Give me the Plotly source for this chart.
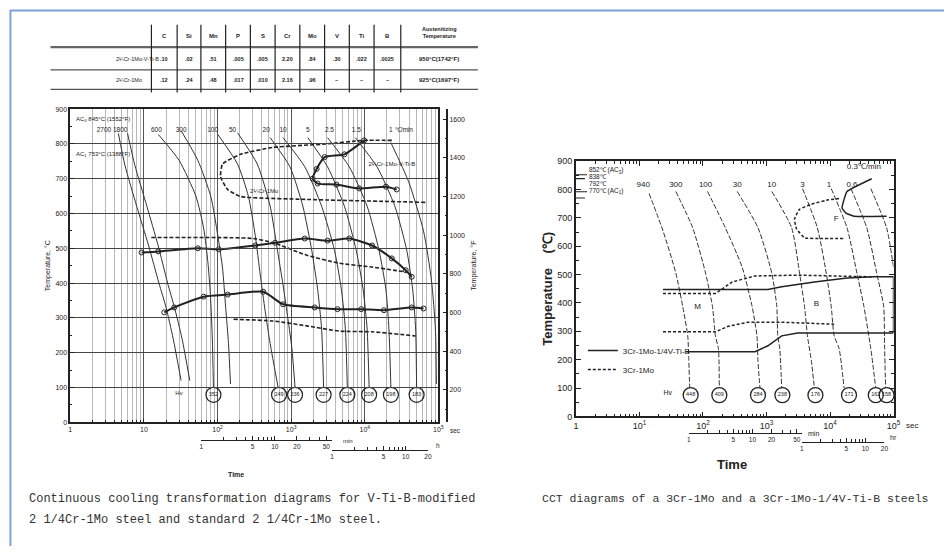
import math
import plotly.graph_objects as go

W, H = 951, 551
def fx(p): return p / W
def fy(p): return 1 - p / H

FONT = "Liberation Sans"
MONO = "Liberation Mono"
INK = "#222222"

# ---------------- composition table ----------------
table_cols = ["C", "Si", "Mn", "P", "S", "Cr", "Mo", "V", "Ti", "B"]
table_rows = ["2¼Cr-1Mo-V-Ti-B", "2¼Cr-1Mo"]
row1_vals = [".10", ".02", ".51", ".005", ".005", "2.20", ".84", ".30", ".022", ".0025"]
row2_vals = [".12", ".24", ".48", ".017", ".010", "2.16", ".96", "–", "–", "–"]
aust_header = "Austenitizing<br>Temperature"
aust_temps = ["950°C(1742°F)", "925°C(1697°F)"]

# ---------------- left chart: 2 1/4Cr-1Mo (time s, temperature °C) ----------------
left_rate_labels = ["2700 1800", "600", "300", "100", "50", "20", "10", "5", "2.5", "1.5", "1"]
left_rate_t = [3.7, 14.8, 32, 86, 160, 458, 776, 1682, 3310, 7660, 22650]
left_rate_T = [838] * 11
left_unit_label = ["℃/min"]
left_unit_t = [33900]
left_unit_T = [838]

left_cool_t = [
    [4.5, 5.5, 8, 11.5, 16, 20, 25, 32],
    [6, 7.5, 11, 15.5, 21, 26, 33, 42],
    [15.7, 30, 51, 65, 74, 80, 85, 88],
    [32, 54, 81, 101, 117, 129, 141, 150],
    [101, 187, 263, 326, 381, 444, 519, 665],
    [187, 347, 519, 645, 776, 906, 1024, 1130],
    [519, 964, 1442, 1905, 2293, 2594, 2760],
    [776, 1534, 2594, 3881, 4820, 5456, 5800],
    [1682, 3126, 5290, 7660, 9510, 10770, 11460],
    [3126, 6170, 10770, 15630, 19400, 21300, 22650],
    [7430, 14680, 25640, 37200, 44800, 49100, 50600],
    [22600, 39500, 62800, 80500, 91200, 94000],
]
left_cool_T = [
    [830, 740, 620, 510, 400, 330, 240, 120],
    [830, 740, 620, 510, 400, 330, 240, 120],
    [827, 753, 649, 556, 460, 367, 240, 100],
    [838, 753, 649, 536, 443, 330, 226, 110],
    [827, 742, 649, 536, 423, 319, 226, 100],
    [832, 742, 621, 500, 395, 296, 212, 100],
    [818, 734, 621, 494, 381, 268, 100],
    [818, 734, 621, 494, 381, 268, 100],
    [818, 734, 621, 494, 381, 268, 100],
    [818, 734, 621, 494, 381, 268, 100],
    [818, 734, 621, 494, 381, 268, 100],
    [804, 691, 550, 409, 268, 110],
]

# ferrite start
lf_mod_t = [9820, 5290, 2850, 2220, 1960, 2290, 4130, 8410, 19400, 27200]
lf_mod_T = [810, 770, 762, 728, 700, 686, 683, 672, 677, 669]
lf_std_t = [23300, 9820, 2675, 569, 205, 117, 110, 137, 205, 1313, 66900]
lf_std_T = [810, 810, 799, 790, 770, 742, 706, 669, 649, 641, 632]
# bainite start
lb_mod_t = [9.3, 15.7, 54, 104, 326, 606, 1532, 3126, 6170, 12580, 23300, 36000, 43400]
lb_mod_T = [488, 491, 500, 497, 508, 516, 528, 522, 528, 508, 471, 437, 418]
lb_std_t = [12.6, 307, 569, 1630, 4530, 12580, 36000]
lb_std_T = [531, 528, 516, 480, 457, 446, 432]
# bainite finish
lbf_mod_t = [18.9, 25.8, 65, 137, 418, 776, 2090, 4260, 8950, 18200, 43400, 62900]
lbf_mod_T = [316, 330, 361, 367, 375, 339, 330, 325, 325, 322, 330, 327]
lbf_std_t = [165, 569, 1630, 4530, 12580, 49100]
lbf_std_T = [296, 291, 277, 262, 260, 248]

left_hv = ["352", "249", "236", "227", "224", "208", "198", "183"]
left_hv_t = [88, 685, 1130, 2760, 5800, 11460, 22650, 50600]
left_hv_T = [79] * 8

# ---------------- right chart: 3Cr-1Mo ----------------
right_rate_labels = ["940", "300", "100", "30", "10", "3", "1", "0.6"]
right_rate_t = [11.5, 37.4, 110, 346, 1213, 3692, 9610, 22200]
right_rate_T = [817] * 8
right_unit_label = ["0.3℃/min"]
right_unit_t = [34100]
right_unit_T = [880]

right_cool_t = [
    [14.2, 23.5, 37.4, 48, 57.6, 59.7, 61.8],
    [37.4, 68.9, 110, 141, 157, 175, 181],
    [118, 225, 414, 593, 708, 735, 789],
    [346, 735, 1213, 1452, 1506, 1618, 1738],
    [1213, 2489, 3315, 3965, 4416, 5095, 5680],
    [3692, 6325, 8730, 10450, 11620, 13900, 16640],
    [10450, 18530, 26530, 34130, 43850, 52480],
    [21380, 37950, 54350, 69850, 72400, 75020],
    [43850, 77800, 100000],
]
right_cool_T = [
    [786, 654, 505, 388, 284, 204, 100],
    [793, 665, 505, 388, 284, 239, 100],
    [793, 665, 526, 388, 284, 194, 100],
    [793, 665, 505, 388, 284, 239, 100],
    [793, 665, 505, 388, 284, 194, 100],
    [803, 665, 505, 388, 284, 239, 100],
    [803, 665, 505, 388, 239, 100],
    [803, 665, 505, 388, 239, 100],
    [803, 665, 526],
]

rf_mod_t = [45400, 18530, 16640, 15490, 17850, 23900, 77800]
rf_mod_T = [838, 793, 765, 734, 717, 706, 706]
rf_std_t = [13900, 8730, 5095, 3315, 2767, 2972, 3965, 7290, 16640]
rf_std_T = [768, 762, 748, 730, 696, 661, 630, 627, 627]
rb_mod_t = [23.5, 157, 1052, 1738, 5680, 18530, 48800, 100000, 100000]
rb_mod_T = [447, 447, 447, 457, 474, 488, 492, 492, 294]
rb_std_t = [23.5, 157, 289, 659, 3085, 18530, 48800]
rb_std_T = [433, 433, 474, 495, 498, 495, 492]
rm_mod_t = [53.6, 659, 1052, 1738, 3085, 18530, 100000]
rm_mod_T = [228, 228, 249, 284, 294, 294, 294]
rm_std_t = [23.5, 157, 251, 513, 1738, 11620]
rm_std_T = [298, 298, 318, 332, 332, 325]

ac_labels = ["852℃ (AC<sub>3</sub>)", "838℃", "792℃", "770℃ (AC<sub>1</sub>)"]
ac_T = [852, 838, 792, 770]
ac_label_T = [866, 842, 818, 794]
ac_dash = ["solid", "dash", "solid", "dash"]

right_hv = ["448", "409", "284", "238", "176", "171", "162", "158"]
right_hv_t = [64, 181, 735, 1780, 5890, 19900, 52500, 77800]
right_hv_T = [75] * 8

region_labels = ["M", "B", "F"]
region_t = [82, 6100, 12500]
region_T = [384, 395, 696]

minutes_major = [1, 5, 10, 20, 50]
minutes_minor = [2, 3, 4, 6, 7, 8, 9, 30, 40, 60]
hours_major = [1, 5, 10, 20]
hours_minor = [2, 3, 4, 6, 7, 8, 9]

# ---------------- figure ----------------
fig = go.Figure()

def line(t, T, xa, ya, width=1.0, dash="solid", shape="spline", name=None,
         legend=False, markers=False, color=INK, smoothing=0.6):
    fig.add_trace(go.Scatter(
        x=t, y=T, xaxis=xa, yaxis=ya,
        mode="lines+markers" if markers else "lines",
        line=dict(color=color, width=width, dash=dash, shape=shape, smoothing=smoothing),
        marker=dict(symbol="circle-open", size=5, color=INK, line=dict(width=1, color=INK)),
        name=name, showlegend=legend, hoverinfo="skip"))

def text(t, T, labels, xa, ya, size=7, pos="middle center"):
    fig.add_trace(go.Scatter(
        x=t, y=T, xaxis=xa, yaxis=ya, mode="text", text=labels,
        textposition=pos, cliponaxis=False, showlegend=False, hoverinfo="skip",
        textfont=dict(family=FONT, size=size, color=INK)))

# left chart
for t, T in zip(left_cool_t, left_cool_T):
    line(t, T, "x", "y", width=1, color="#333333")
line(lf_mod_t, lf_mod_T, "x", "y", width=2, markers=True, smoothing=0.5)
line(lf_std_t, lf_std_T, "x", "y", width=1.6, dash="4px,2px", smoothing=0.5)
line(lb_mod_t, lb_mod_T, "x", "y", width=2, markers=True)
line(lb_std_t, lb_std_T, "x", "y", width=1.6, dash="4px,2px")
line(lbf_mod_t, lbf_mod_T, "x", "y", width=2, markers=True)
line(lbf_std_t, lbf_std_T, "x", "y", width=1.6, dash="4px,2px")
text(left_rate_t, left_rate_T, left_rate_labels, "x", "y", size=6.5)
text(left_unit_t, left_unit_T, left_unit_label, "x", "y", size=6.5)
text([23300, 431, 30], [742, 663, 82], ["2¼Cr-1Mo-V-Ti-B", "2¼Cr-1Mo", "Hv"], "x", "y", size=6)
fig.add_trace(go.Scatter(
    x=left_hv_t, y=left_hv_T, xaxis="x", yaxis="y", mode="markers+text",
    text=left_hv, textposition="middle center", cliponaxis=False,
    marker=dict(symbol="circle-open", size=15, color=INK, line=dict(width=1.2, color=INK)),
    textfont=dict(family=FONT, size=5.5, color=INK), showlegend=False, hoverinfo="skip"))

# right chart
for t, T in zip(right_cool_t, right_cool_T):
    line(t, T, "x2", "y2", width=1, dash="5px,2px", color="#333333")
line(rf_mod_t, rf_mod_T, "x2", "y2", width=1.5, smoothing=0.4)
line(rf_std_t, rf_std_T, "x2", "y2", width=1.5, dash="3px,2px", smoothing=0.4)
line(rb_mod_t, rb_mod_T, "x2", "y2", width=1.5, shape="linear",
     name="3Cr-1Mo-1/4V-Ti-B", legend=True)
line(rb_std_t, rb_std_T, "x2", "y2", width=1.5, dash="3px,2px", shape="linear",
     name="3Cr-1Mo", legend=True)
line(rm_mod_t, rm_mod_T, "x2", "y2", width=1.5, shape="linear")
line(rm_std_t, rm_std_T, "x2", "y2", width=1.5, dash="3px,2px", shape="linear")
for T, d in zip(ac_T, ac_dash):
    line([1, 1.5], [T, T], "x2", "y2", width=1.2, dash=d, shape="linear")
text([1.6] * 4, ac_label_T, ac_labels, "x2", "y2", size=6.5, pos="middle right")
text(right_rate_t, right_rate_T, right_rate_labels, "x2", "y2", size=8)
text(right_unit_t, right_unit_T, right_unit_label, "x2", "y2", size=8)
text(region_t, region_T, region_labels, "x2", "y2", size=8)
text([28], [80], ["Hv"], "x2", "y2", size=7)
fig.add_trace(go.Scatter(
    x=right_hv_t, y=right_hv_T, xaxis="x2", yaxis="y2", mode="markers+text",
    text=right_hv, textposition="middle center", cliponaxis=False,
    marker=dict(symbol="circle-open", size=15, color=INK, line=dict(width=1.3, color=INK)),
    textfont=dict(family=FONT, size=5.5, color=INK), showlegend=False, hoverinfo="skip"))

# dummy traces to register auxiliary axes
for xa, ya in [("x", "y3"), ("x3", "y"), ("x4", "y"), ("x5", "y2"), ("x6", "y2")]:
    fig.add_trace(go.Scatter(x=[1], y=[None], xaxis=xa, yaxis=ya, mode="lines",
                             showlegend=False, hoverinfo="skip"))

LX = [fx(68), fx(440)]
LY = [fy(425), fy(106)]
RX = [fx(579), fx(900)]
RY = [fy(419), fy(159)]

def sub_domain(dom, lo, hi):
    a, b = dom
    return [a + (b - a) * math.log10(lo) / 5, a + (b - a) * math.log10(hi) / 5]

minor_log = [m * 10 ** k for k in range(5) for m in range(2, 10)]
dec_vals = [1, 10, 100, 1000, 1e4, 1e5]
tf7 = dict(family=FONT, size=7, color=INK)
tf9 = dict(family=FONT, size=9, color=INK)

def scale_axis(dom, lo, hi, major, minor, pos, rng_hi):
    return dict(type="log", domain=sub_domain(dom, lo, hi), range=[0, math.log10(rng_hi)],
                anchor="free", position=pos, tickvals=major, ticktext=[str(v) for v in major],
                ticks="inside", ticklen=4, tickcolor=INK, showline=True, linecolor=INK,
                linewidth=1, showgrid=False, zeroline=False,
                minor=dict(tickvals=minor, ticks="inside", ticklen=3, tickcolor=INK, showgrid=False),
                tickfont=dict(family=FONT, size=6.5, color=INK))

fig.update_layout(
    width=W, height=H, margin=dict(l=0, r=0, t=0, b=0),
    paper_bgcolor="white", plot_bgcolor="rgba(0,0,0,0)",
    showlegend=True,
    legend=dict(x=fx(586), y=fy(337), xanchor="left", yanchor="top",
                bgcolor="rgba(0,0,0,0)", font=dict(family=FONT, size=8, color=INK),
                tracegroupgap=0, itemwidth=30),
    xaxis=dict(type="log", range=[0, 5], domain=LX, anchor="y",
               tickvals=dec_vals, ticktext=["1", "10", "10<sup>2</sup>", "10<sup>3</sup>", "10<sup>4</sup>", "10<sup>5</sup>"],
               ticks="inside", ticklen=4, tickcolor=INK, showline=True, linecolor=INK, linewidth=1.5,
               mirror=True, showgrid=True, gridcolor="#555555", gridwidth=1, zeroline=False,
               minor=dict(tickvals=minor_log, ticks="inside", ticklen=3, tickcolor=INK,
                          showgrid=True, gridcolor="#b8b8b8", gridwidth=1),
               tickfont=tf7),
    yaxis=dict(range=[0, 900], domain=LY, anchor="x", tick0=0, dtick=100,
               ticks="inside", ticklen=4, tickcolor=INK, showline=True, linecolor=INK, linewidth=1.5,
               mirror=True, showgrid=True, gridcolor="#444444", gridwidth=1, zeroline=False,
               minor=dict(dtick=50, ticks="inside", ticklen=2, tickcolor=INK),
               tickfont=tf7,
               title=dict(text="Temperature, °C", font=dict(family=FONT, size=7, color=INK), standoff=4)),
    yaxis3=dict(range=[32, 1652], overlaying="y", anchor="free", position=fx(449), side="right",
                tickvals=[200, 400, 600, 800, 1000, 1200, 1400, 1600],
                ticks="inside", ticklen=4, tickcolor=INK, showline=True, linecolor=INK, linewidth=1.5,
                showgrid=False, zeroline=False,
                minor=dict(dtick=100, ticks="inside", ticklen=2, tickcolor=INK),
                tickfont=tf7,
                title=dict(text="Temperature, °F", font=dict(family=FONT, size=7, color=INK), standoff=6)),
    xaxis2=dict(type="log", range=[0, 5], domain=RX, anchor="y2",
                tickvals=dec_vals, ticktext=["1", "10<sup>1</sup>", "10<sup>2</sup>", "10<sup>3</sup>", "10<sup>4</sup>", "10<sup>5</sup>"],
                ticks="inside", ticklen=5, tickcolor=INK, showline=True, linecolor=INK, linewidth=1.5,
                mirror="ticks", showgrid=False, zeroline=False,
                minor=dict(tickvals=minor_log, ticks="inside", ticklen=3, tickcolor=INK),
                tickfont=tf9),
    yaxis2=dict(range=[0, 900], domain=RY, anchor="x2", tick0=0, dtick=100,
                ticks="inside", ticklen=5, tickcolor=INK, showline=True, linecolor=INK, linewidth=1.5,
                mirror="ticks", showgrid=False, zeroline=False,
                minor=dict(dtick=50, ticks="inside", ticklen=3, tickcolor=INK),
                tickfont=tf9,
                title=dict(text="<b>Temperature</b>    <b>(℃)</b>", font=dict(family=FONT, size=13, color=INK), standoff=2)),
    xaxis3=scale_axis(LX, 60, 3600, minutes_major, minutes_minor, fy(443), 60),
    xaxis4=scale_axis(LX, 3600, 72000, hours_major, hours_minor, fy(453), 20),
    xaxis5=scale_axis(RX, 60, 3600, minutes_major, minutes_minor, fy(436), 60),
    xaxis6=scale_axis(RX, 3600, 72000, hours_major, hours_minor, fy(445), 20),
)

anns = []
def ann(x, y, s, size=7, anchor="center", family=FONT, color=INK, yanchor="middle"):
    anns.append(dict(x=fx(x), y=fy(y), xref="paper", yref="paper", text=s, showarrow=False,
                     xanchor=anchor, yanchor=yanchor, font=dict(family=family, size=size, color=color)))

shapes = []
def hline(x0, x1, y, width=1, color=INK):
    shapes.append(dict(type="line", xref="paper", yref="paper", x0=fx(x0), x1=fx(x1),
                       y0=fy(y), y1=fy(y), line=dict(color=color, width=width)))
def vline(x, y0, y1, width=1, color=INK):
    shapes.append(dict(type="line", xref="paper", yref="paper", x0=fx(x), x1=fx(x),
                       y0=fy(y0), y1=fy(y1), line=dict(color=color, width=width)))

# frame
hline(7, 951, 5.5, width=2, color="#7da2d8")
vline(7.5, 5, 551, width=2, color="#7da2d8")

# table
col_edges = [150, 176, 200, 225, 250, 275, 300, 325, 350, 375, 402]
hline(48, 480, 43, width=2.2, color="#666666")
hline(48, 480, 66, width=1.2, color="#555555")
hline(48, 480, 86, width=1.2, color="#555555")
for xe in col_edges:
    vline(xe, 20, 89, width=1.2)
centers = [(a + b) / 2 for a, b in zip(col_edges[:-1], col_edges[1:])]
for c, h in zip(centers, table_cols):
    ann(c, 32, "<b>%s</b>" % h, size=6)
ann(441, 28, "<b>%s</b>" % aust_header, size=5.5)
for yy, lab, vals, at in [(55, table_rows[0], row1_vals, aust_temps[0]),
                          (76, table_rows[1], row2_vals, aust_temps[1])]:
    ann(112, yy, lab, size=5.5, anchor="left")
    for c, v in zip(centers, vals):
        ann(c, yy, "<b>%s</b>" % v, size=5.5)
    ann(441, yy, "<b>%s</b>" % at, size=6)

# left chart texts
ann(72, 117, "AC<sub>3</sub> 845°C (1552°F)", size=6, anchor="left")
ann(72, 152, "AC<sub>1</sub> 753°C (1388°F)", size=6, anchor="left")
ann(450, 433, "sec", size=6.5, anchor="left")
ann(342, 444, "min", size=6, anchor="left")
ann(436, 449, "h", size=6.5, anchor="left")
ann(235, 478, "<b>Time</b>", size=7)

# right chart texts
ann(911, 428, "sec", size=8, anchor="left")
ann(812, 436, "min", size=7, anchor="left")
ann(894, 440, "hr", size=7, anchor="left")
ann(737, 468, "<b>Time</b>", size=13)

# captions
ann(24, 503, "Continuous cooling transformation diagrams for V-Ti-B-modified", size=12,
    anchor="left", family=MONO, color="#333333")
ann(24, 525, "2 1/4Cr-1Mo steel and standard 2 1/4Cr-1Mo steel.", size=12,
    anchor="left", family=MONO, color="#333333")
ann(543, 503, "CCT diagrams of a 3Cr-1Mo and a 3Cr-1Mo-1/4V-Ti-B steels", size=11.5,
    anchor="left", family=MONO, color="#333333")

fig.update_layout(annotations=anns, shapes=shapes)
fig.write_html("out.html", config={"displayModeBar": False},
               post_script="document.body.style.margin='0';document.body.style.overflow='hidden';")
